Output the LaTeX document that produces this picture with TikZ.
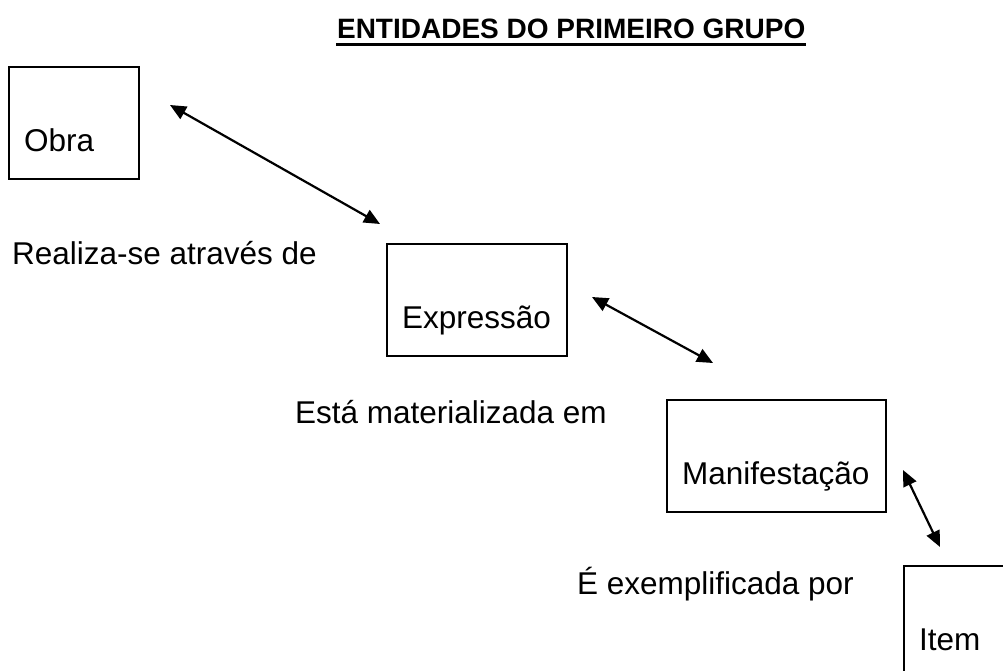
\documentclass[tikz,border=0pt]{standalone}
\usepackage{fontspec}
\setmainfont{Liberation Sans}
\usepackage{tikz}
\usetikzlibrary{arrows.meta}

\begin{document}
\begin{tikzpicture}[x=1pt, y=-1pt, <->, >={Triangle[length=16pt,width=14pt]},
                  line width=2.2pt, font=\fontsize{31.5pt}{38pt}\selectfont,
                  entidade/.style={draw, rectangle, anchor=north west,
                  inner xsep=15pt, inner ysep=0pt, text height=84pt,
                  text depth=28pt, text width=#1, align=left},
                  frase/.style={anchor=base west, inner sep=0pt}]
                  \useasboundingbox (0,0) rectangle (1003,671);

                  % Titulo do diagrama.
                  \node[frase, font=\fontsize{28pt}{34pt}\selectfont\bfseries]
                  (titulo) at (336,39) {ENTIDADES DO PRIMEIRO GRUPO};
                  \draw[-, line width=3pt] ([yshift=-5.5pt]titulo.base west)
                  -- ([yshift=-5.5pt]titulo.base east);

                  % Entidades.
                  \node[entidade=100pt] (obra) at (8,66) {Obra};
                  \node[entidade=150pt] (expr) at (386,243) {Express\~ao};
                  \node[entidade=189pt] (manif) at (666,399) {Manifesta\c{c}\~ao};
                  \node[entidade=100pt] (item) at (903,565) {Item};

                  % Relacoes entre as entidades.
                  \node[frase] (realiza) at (11,264) {Realiza-se atrav\'es de};
                  \node[frase] (materializa) at (294,423) {Est\'a materializada em};
                  \node[frase] (exemplifica) at (576,594) {\'E exemplificada por};

                  \coordinate (r1) at (170,105);
                  \coordinate (r2) at (380,224);
                  \coordinate (m1) at (592,297);
                  \coordinate (m2) at (713,363);
                  \coordinate (e1) at (903,470);
                  \coordinate (e2) at (940,547);
                  \draw (r1) -- (r2);
                  \draw (m1) -- (m2);
                  \draw (e1) -- (e2);

                \end{tikzpicture}
\end{document}
